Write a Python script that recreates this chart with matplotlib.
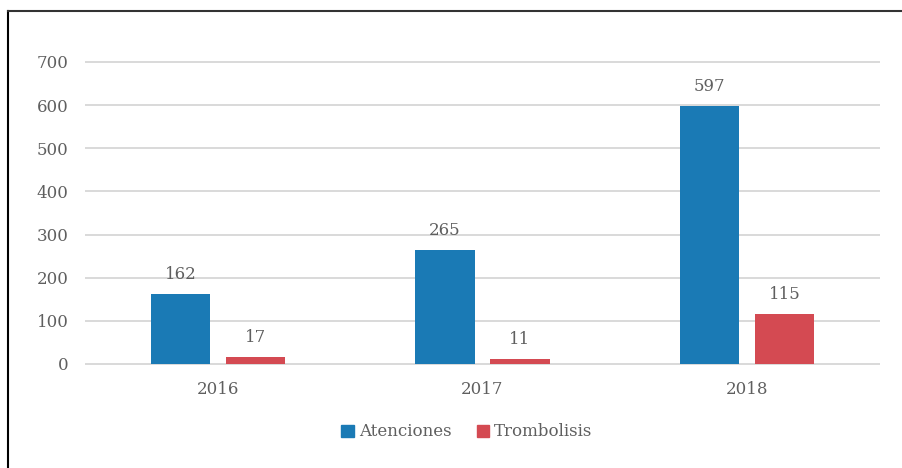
import matplotlib
matplotlib.use("Agg")
import matplotlib.pyplot as plt
from matplotlib.lines import Line2D
from matplotlib.patches import Patch
import numpy as np

years = ["2016", "2017", "2018"]
atenciones = [162, 265, 597]
trombolisis = [17, 11, 115]
series_names = ["Atenciones", "Trombolisis"]
yticks = [0, 100, 200, 300, 400, 500, 600, 700]

blue = "#1a7ab5"
red = "#d44a52"
txt = "#5f5f5f"

plt.rcParams['font.family'] = ['DejaVu Serif']

fig = plt.figure(figsize=(9.02, 4.68), dpi=100)
ax = fig.add_axes([86/902, 104/468, (879-86)/902, (364-62)/468])

x = np.arange(len(years))
w = 0.224
off = 0.142
b1 = ax.bar(x - off, atenciones, w, color=blue, zorder=3)
b2 = ax.bar(x + off, trombolisis, w, color=red, zorder=3)

for bars, vals in ((b1, atenciones), (b2, trombolisis)):
    for r, v in zip(bars, vals):
        ax.annotate(str(v), (r.get_x() + r.get_width()/2, v), xytext=(0, 8),
                    textcoords="offset points", ha="center", va="bottom",
                    fontsize=12, color=txt)

ax.set_xlim(-0.5, len(years) - 0.5)
ax.set_ylim(0, 700)
ax.set_yticks(yticks)
ax.set_xticks(x)
ax.set_xticklabels(years)
ax.tick_params(axis='both', length=0, labelsize=12, labelcolor=txt)
ax.tick_params(axis='y', pad=12.5)
ax.tick_params(axis='x', pad=12)
ax.grid(axis='y', color='#d9d9d9', linewidth=1.4, zorder=0)
for gl in ax.get_ygridlines():
    gl.set_clip_on(False)
for s in ax.spines.values():
    s.set_visible(False)

handles = [Patch(color=blue), Patch(color=red)]
leg = fig.legend(handles, series_names, loc='center', bbox_to_anchor=(467/902, 1 - 432/468),
                 ncol=2, frameon=False, fontsize=12, handlelength=0.75, handleheight=0.75,
                 handletextpad=0.3, columnspacing=1.5)
for t in leg.get_texts():
    t.set_color(txt)

fig.add_artist(Line2D([8/902, 8/902], [0, 1 - 11/468], color='black', linewidth=1.5, transform=fig.transFigure))
fig.add_artist(Line2D([8/902, 1], [1 - 11/468, 1 - 11/468], color='#333333', linewidth=1.5, transform=fig.transFigure))

fig.savefig("out.png", dpi=100)
